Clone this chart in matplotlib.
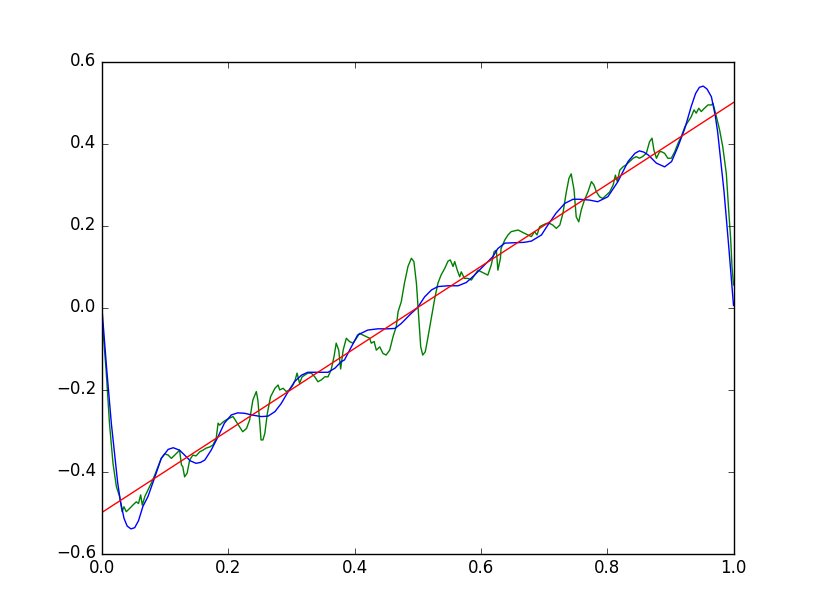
import matplotlib
matplotlib.use("Agg")
import matplotlib.pyplot as plt

plt.style.use("classic")

# Straight reference line
line_x = [0.0, 1.0]
line_y = [-0.5, 0.5]

# Smooth (blue) approximation
blue_x = [0.0, 0.0075, 0.015, 0.025, 0.029, 0.035, 0.040, 0.046, 0.052, 0.058,
          0.065, 0.073, 0.084, 0.094,
          0.105, 0.113, 0.123, 0.131, 0.140, 0.149, 0.156, 0.163, 0.173, 0.184, 0.194, 0.205,
          0.215, 0.226, 0.237, 0.252, 0.263, 0.274, 0.284, 0.295, 0.305, 0.316,
          0.326, 0.342, 0.358, 0.369, 0.379, 0.384, 0.395, 0.405, 0.421, 0.437,
          0.453, 0.464, 0.474, 0.490, 0.500, 0.511, 0.522, 0.532, 0.548, 0.564,
          0.577, 0.590, 0.606, 0.619, 0.627, 0.638, 0.654, 0.669, 0.680, 0.696,
          0.706, 0.719, 0.733, 0.746, 0.756, 0.772, 0.785, 0.801, 0.817, 0.833,
          0.844, 0.851, 0.858, 0.865, 0.878, 0.891, 0.902, 0.912, 0.923, 0.933, 0.940,
          0.946, 0.952, 0.958, 0.965, 0.971, 0.975, 0.985, 0.9925, 1.0]
blue_y = [0.0, -0.148, -0.283, -0.427, -0.469, -0.514, -0.533, -0.540, -0.537, -0.520,
          -0.485, -0.461, -0.413, -0.368,
          -0.346, -0.342, -0.348, -0.360, -0.374, -0.380, -0.378, -0.372, -0.348, -0.315, -0.282, -0.262,
          -0.257, -0.258, -0.262, -0.266, -0.265, -0.254, -0.234, -0.205, -0.181, -0.165,
          -0.158, -0.158, -0.158, -0.148, -0.132, -0.128, -0.096, -0.067, -0.055, -0.052,
          -0.052, -0.051, -0.039, -0.014, 0.0, 0.026, 0.043, 0.051, 0.053, 0.053,
          0.061, 0.079, 0.104, 0.124, 0.144, 0.157, 0.158, 0.159, 0.162, 0.177,
          0.201, 0.230, 0.254, 0.264, 0.264, 0.262, 0.258, 0.270, 0.307, 0.356,
          0.376, 0.382, 0.379, 0.372, 0.352, 0.343, 0.356, 0.392, 0.437, 0.490, 0.522,
          0.537, 0.540, 0.533, 0.514, 0.469, 0.427, 0.283, 0.148, 0.005]

# Noisy (green) approximation
green_x = [0.0, 0.007, 0.012, 0.0176, 0.023, 0.028, 0.032, 0.035, 0.0386, 0.044,
           0.049, 0.0545, 0.058, 0.0614, 0.064, 0.068, 0.073, 0.078, 0.0836, 0.089,
           0.094, 0.0994, 0.105, 0.110, 0.118, 0.123, 0.126, 0.128, 0.131, 0.135,
           0.139, 0.144, 0.149, 0.155, 0.160, 0.165, 0.171, 0.176, 0.181, 0.184,
           0.1865, 0.192, 0.197, 0.202, 0.2076, 0.213, 0.218, 0.223, 0.229, 0.234,
           0.239, 0.2445, 0.247, 0.250, 0.252, 0.255, 0.258, 0.262, 0.267, 0.274,
           0.279, 0.2815, 0.287, 0.292, 0.297, 0.3026, 0.306, 0.309, 0.313, 0.317,
           0.321, 0.326, 0.3315, 0.337, 0.342, 0.347, 0.353, 0.358, 0.363, 0.3675,
           0.371, 0.375, 0.378, 0.382, 0.387, 0.392, 0.3976, 0.403, 0.408, 0.413,
           0.4186, 0.424, 0.4265, 0.431, 0.4345, 0.440, 0.445, 0.450, 0.4557, 0.461,
           0.466, 0.469, 0.474, 0.479, 0.4846, 0.490, 0.494, 0.498, 0.5016, 0.5048,
           0.508, 0.512, 0.516, 0.5215, 0.527, 0.532, 0.537, 0.543, 0.548, 0.5516,
           0.556, 0.5586, 0.5627, 0.5665, 0.569, 0.574, 0.5796, 0.585, 0.590, 0.5955,
           0.6007, 0.606, 0.611, 0.6165, 0.621, 0.6245, 0.627, 0.631, 0.632, 0.638,
           0.643, 0.648, 0.6536, 0.659, 0.664, 0.669, 0.6746, 0.680, 0.685, 0.689,
           0.693, 0.698, 0.7036, 0.709, 0.714, 0.7195, 0.725, 0.730, 0.735, 0.7395,
           0.743, 0.7475, 0.751, 0.755, 0.759, 0.764, 0.7696, 0.775, 0.779, 0.783,
           0.788, 0.793, 0.7986, 0.804, 0.8095, 0.813, 0.816, 0.820, 0.825, 0.830,
           0.8356, 0.841, 0.846, 0.851, 0.856, 0.862, 0.867, 0.871, 0.874, 0.878,
           0.883, 0.886, 0.891, 0.896, 0.9015, 0.907, 0.912, 0.9174, 0.923, 0.928,
           0.933, 0.9375, 0.941, 0.945, 0.949, 0.954, 0.9596, 0.965, 0.9675, 0.973,
           0.978, 0.983, 0.9886, 0.992, 0.9956, 0.9976, 1.0]
green_y = [-0.02, -0.160, -0.282, -0.380, -0.437, -0.461, -0.498, -0.486, -0.498, -0.490,
           -0.482, -0.474, -0.478, -0.457, -0.482, -0.461, -0.445, -0.429, -0.409, -0.388,
           -0.368, -0.357, -0.360, -0.368, -0.356, -0.348, -0.384, -0.388, -0.413, -0.404,
           -0.372, -0.360, -0.362, -0.352, -0.348, -0.343, -0.340, -0.335, -0.319, -0.282,
           -0.287, -0.279, -0.274, -0.270, -0.266, -0.279, -0.291, -0.303, -0.295, -0.274,
           -0.226, -0.205, -0.226, -0.282, -0.323, -0.323, -0.307, -0.258, -0.218, -0.197,
           -0.189, -0.201, -0.197, -0.205, -0.201, -0.189, -0.177, -0.160, -0.185, -0.169,
           -0.165, -0.160, -0.160, -0.169, -0.181, -0.177, -0.169, -0.169, -0.152, -0.120,
           -0.087, -0.104, -0.150, -0.104, -0.075, -0.083, -0.087, -0.075, -0.063, -0.067,
           -0.071, -0.075, -0.087, -0.083, -0.104, -0.096, -0.112, -0.116, -0.104, -0.071,
           -0.047, -0.010, 0.014, 0.059, 0.100, 0.120, 0.112, 0.059, -0.022, -0.096,
           -0.116, -0.108, -0.075, -0.026, 0.022, 0.059, 0.079, 0.096, 0.113, 0.116,
           0.100, 0.112, 0.091, 0.075, 0.087, 0.071, 0.071, 0.067, 0.079, 0.091,
           0.087, 0.083, 0.079, 0.104, 0.136, 0.140, 0.091, 0.120, 0.144, 0.165,
           0.177, 0.185, 0.187, 0.189, 0.185, 0.181, 0.177, 0.173, 0.185, 0.177,
           0.197, 0.201, 0.205, 0.205, 0.201, 0.193, 0.201, 0.230, 0.279, 0.315,
           0.326, 0.287, 0.221, 0.209, 0.238, 0.262, 0.282, 0.307, 0.299, 0.282,
           0.270, 0.266, 0.274, 0.282, 0.299, 0.323, 0.307, 0.335, 0.343, 0.348,
           0.356, 0.364, 0.368, 0.364, 0.368, 0.376, 0.404, 0.413, 0.384, 0.364,
           0.380, 0.380, 0.376, 0.364, 0.364, 0.380, 0.400, 0.417, 0.441, 0.453,
           0.465, 0.482, 0.474, 0.486, 0.478, 0.486, 0.494, 0.494, 0.498, 0.465,
           0.433, 0.392, 0.327, 0.246, 0.165, 0.100, 0.055]

fig = plt.figure(figsize=(8.15, 6.15), dpi=100)
ax = fig.add_subplot(111)
ax.plot(green_x, green_y, color="g")
ax.plot(blue_x, blue_y, color="b")
ax.plot(line_x, line_y, color="r")
ax.set_xlim(0.0, 1.0)
ax.set_ylim(-0.6, 0.6)
ax.set_xticks([0.0, 0.2, 0.4, 0.6, 0.8, 1.0])
ax.set_yticks([-0.6, -0.4, -0.2, 0.0, 0.2, 0.4, 0.6])
fig.savefig("out.png", dpi=100)
